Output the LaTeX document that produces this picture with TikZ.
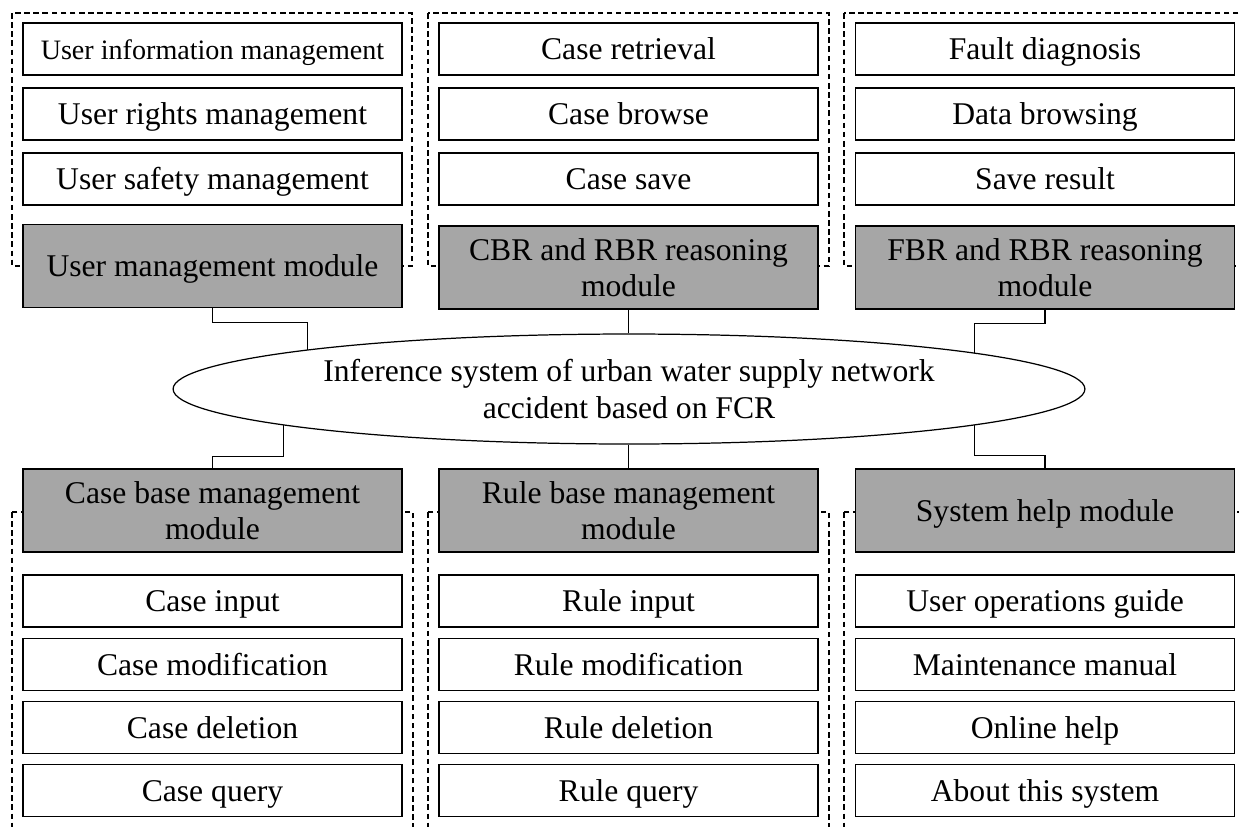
\documentclass[tikz,border=0pt]{standalone}
\usepackage{fontspec}
\setmainfont{Liberation Serif}
\usetikzlibrary{shapes.geometric}
\definecolor{modgray}{RGB}{166,166,166}

\begin{document}
\begin{tikzpicture}[
x=0.02cm, y=-0.02cm, %пиксели
every node/.style={font=\fontsize{18}{21}\selectfont, inner sep=0pt, align=center},
box/.style={draw, line width=1pt, minimum width=7.58cm},
item/.style={box, fill=white, minimum height=1.04cm, text height=14pt, text depth=2pt},
module/.style={box, fill=modgray, minimum height=1.66cm, text depth=-5pt},
group/.style={draw, line width=0.6pt, dash pattern=on 3.2pt off 2pt},
link/.style={draw, line width=0.6pt},
]
\useasboundingbox (0,0) rectangle (1239,826);
\clip (0,0) rectangle (1239,826);
%пунктирные рамки
\draw[group] (12,13) rectangle (412,266);
\draw[group] (428,13) rectangle (829,266);
\draw[group] (844,13) rectangle (1245,266);
\draw[group] (12,512) rectangle (413,840);
\draw[group] (428,512) rectangle (829,840);
\draw[group] (844,512) rectangle (1245,840);
%верхние модули
\node[item, font=\fontsize{16}{19}\selectfont] (uinfo) at (212.5,49) {User information management};
\node[item] (urights) at (212.5,114) {User rights management};
\node[item] (usafe) at (212.5,179) {User safety management};
\node[module, text height=14pt, text depth=2pt] (um) at (212.5,266) {User management module};
\node[item] (cretr) at (628.5,49) {Case retrieval};
\node[item] (cbrow) at (628.5,114) {Case browse};
\node[item] (csave) at (628.5,179) {Case save};
\node[module] (cbr) at (628.5,267.5) {CBR and RBR reasoning\\module};
\node[item] (fdiag) at (1045,49) {Fault diagnosis};
\node[item] (dbrow) at (1045,114) {Data browsing};
\node[item] (sres) at (1045,179) {Save result};
\node[module] (fbr) at (1045,267.5) {FBR and RBR reasoning\\module};
%система
\node[draw, ellipse, line width=0.7pt, fill=white, minimum width=18.24cm, minimum height=2.2cm] (sys) at (629,389) {};
\node (systxt) at (sys.center) {Inference system of urban water supply network\\accident based on FCR};
%нижние модули
\node[module] (cbm) at (212.5,510.5) {Case base management\\module};
\node[item] (cin) at (212.5,601) {Case input};
\node[item] (cmod) at (212.5,664.5) {Case modification};
\node[item] (cdel) at (212.5,727.5) {Case deletion};
\node[item] (cqry) at (212.5,790.5) {Case query};
\node[module] (rbm) at (628.5,510.5) {Rule base management\\module};
\node[item] (rin) at (628.5,601) {Rule input};
\node[item] (rmod) at (628.5,664.5) {Rule modification};
\node[item] (rdel) at (628.5,727.5) {Rule deletion};
\node[item] (rqry) at (628.5,790.5) {Rule query};
\node[module, text height=14pt, text depth=2pt] (shm) at (1045,510.5) {System help module};
\node[item] (guide) at (1045,601) {User operations guide};
\node[item] (manual) at (1045,664.5) {Maintenance manual};
\node[item] (online) at (1045,727.5) {Online help};
\node[item] (about) at (1045,790.5) {About this system};
%связи
\draw[link] (um.south) -- ++(0,14) -| (sys.173.15);
\draw[link] (cbr.south) -- (cbr.south |- sys.north);
\draw[link] (fbr.south) -- ++(0,14) -| (sys.6.85);
\draw[link] (cbm.north) -- ++(0,-12) -| (sys.186.85);
\draw[link] (rbm.north) -- (rbm.north |- sys.south);
\draw[link] (shm.north) -- ++(0,-13) -| (sys.-6.85);
\end{tikzpicture}
\end{document}
